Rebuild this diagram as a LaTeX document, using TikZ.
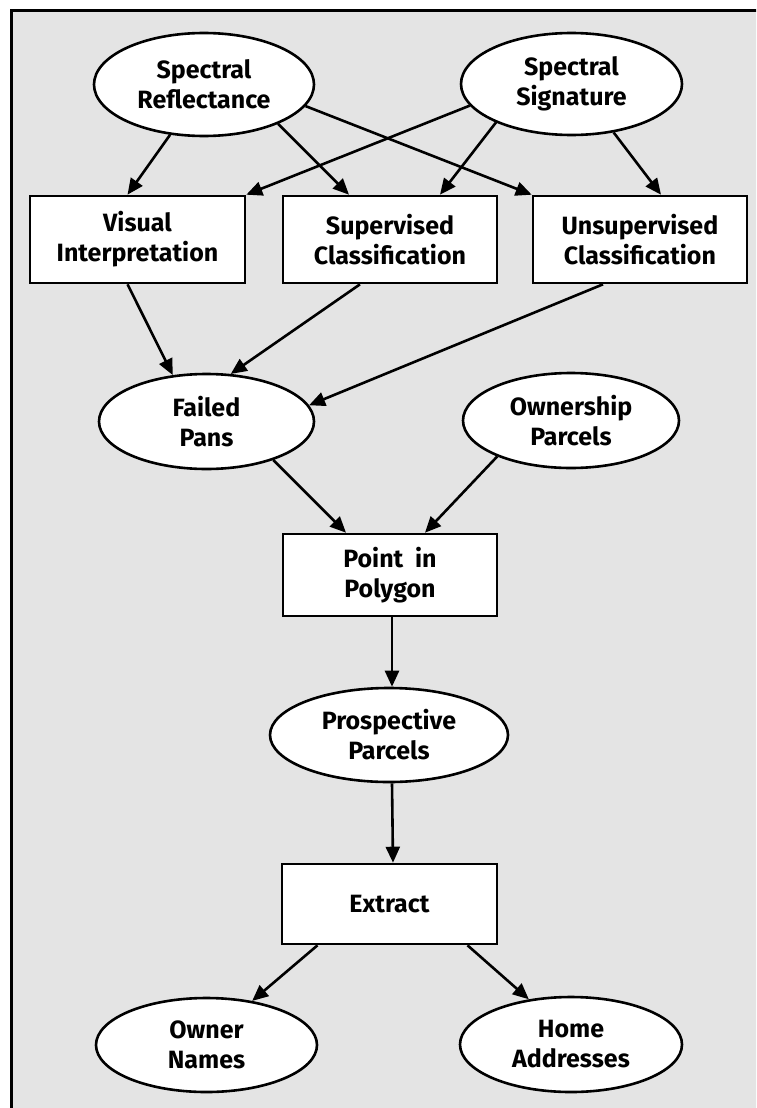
\documentclass[tikz,border=0pt]{standalone}
\usepackage{fontspec}
\setmainfont{Fira Sans}
\usetikzlibrary{arrows.meta,shapes.geometric}
\definecolor{bggray}{RGB}{228,228,228}
\begin{document}
\begin{tikzpicture}[x=1pt,y=-1pt,
  lbl/.style={font=\bfseries\fontsize{25}{30}\selectfont, align=center, inner sep=0pt},
  ell/.style={lbl, ellipse, draw=black, fill=white, line width=2.6pt},
  box/.style={lbl, rectangle, draw=black, fill=white, line width=2.6pt},
  arr/.style={-{Triangle[length=16pt,width=14pt]}, line width=2.6pt}]
\useasboundingbox (0,0) rectangle (756,1108);
\fill[white] (0,0) rectangle (756,1108);
\begin{scope}
\clip (0,0) rectangle (756,1108);
\draw[line width=3pt, fill=bggray] (11,11) rectangle (800,1150);
\end{scope}
% ellipses
\node[ell, minimum width=220pt, minimum height=103pt] (sr) at (204,84.5) {Spectral\\Reflectance};
\node[ell, minimum width=221pt, minimum height=102pt] (ss) at (571.5,84) {Spectral\\Signature};
\node[ell, minimum width=215pt, minimum height=95pt] (fp) at (206.5,421.5) {Failed\\Pans};
\node[ell, minimum width=216pt, minimum height=95pt] (op) at (571,420.5) {Ownership\\Parcels};
\node[ell, minimum width=238pt, minimum height=94pt] (pr) at (389,735) {Prospective\\Parcels};
\node[ell, minimum width=221pt, minimum height=94pt] (on) at (206.5,1045) {Owner\\Names};
\node[ell, minimum width=222pt, minimum height=95pt] (ha) at (571,1044.5) {Home\\Addresses};
% boxes
\node[box, minimum width=215pt, minimum height=87pt] (vi) at (137.5,239.5) {Visual\\Interpretation};
\node[box, minimum width=214pt, minimum height=87pt] (sc) at (390,239.5) {Supervised\\Classification};
\node[box, minimum width=214pt, minimum height=87pt] (uc) at (640,239.5) {Unsupervised\\Classification};
\node[box, minimum width=214pt, minimum height=82pt] (pp) at (390,575) {Point\ \ in\\Polygon};
\node[box, minimum width=215pt, minimum height=80pt] (ex) at (389.5,904) {Extract};
% connectors
\draw[arr] (sr.-124) -- ([xshift=-10pt]vi.north);
\draw[arr] (ss.-168) -- (vi.north east);
\draw[arr] (sr.-28) -- ([xshift=-41pt]sc.north);
\draw[arr] (sr.-12) -- (uc.north west);
\draw[arr] (ss.-153) -- ([xshift=50pt]sc.north);
\draw[arr] (ss.-49) -- ([xshift=21pt]uc.north);
\draw[arr] ([xshift=-10pt]vi.south) -- (fp.126);
\draw[arr] ([xshift=-30pt]sc.south) -- (fp.63);
\draw[arr] ([xshift=-37pt]uc.south) -- (fp.9);
\draw[arr] (fp.-30) -- ([xshift=-44pt]pp.north);
\draw[arr] (op.-154) -- ([xshift=35pt]pp.north);
\draw[arr] ([xshift=2pt]pp.south) -- ([xshift=3pt]pr.north);
\draw[arr] ([xshift=3pt]pr.south) -- ([xshift=3.5pt]ex.north);
\draw[arr] ([xshift=-72pt]ex.south) -- (on.44);
\draw[arr] ([xshift=78pt]ex.south) -- (ha.133);
\end{tikzpicture}
\end{document}
